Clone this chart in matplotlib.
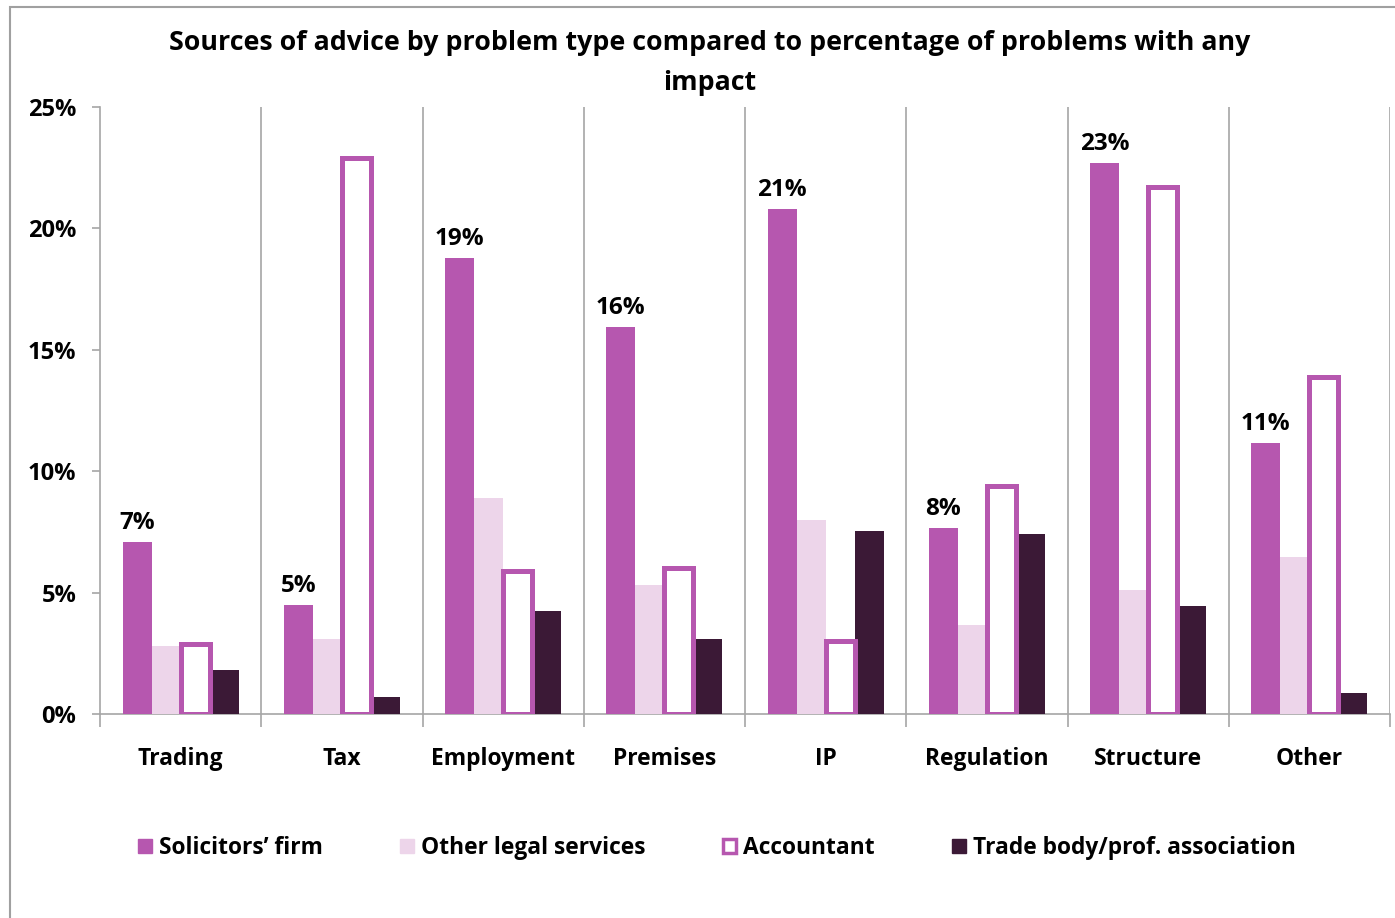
import matplotlib
matplotlib.use("Agg")
import matplotlib.pyplot as plt
from matplotlib.patches import Patch, Rectangle
import numpy as np

plt.rcParams['font.family'] = ['Open Sans', 'DejaVu Sans']
plt.rcParams['font.weight'] = 'bold'

categories = ["Trading", "Tax", "Employment", "Premises", "IP",
              "Regulation", "Structure", "Other"]
solicitors = [7.1, 4.5, 18.8, 15.95, 20.8, 7.65, 22.7, 11.15]
other_legal = [2.8, 3.1, 8.9, 5.3, 8.0, 3.65, 5.1, 6.45]
accountant = [2.9, 22.9, 5.9, 6.0, 3.0, 9.4, 21.7, 13.9]
trade_body = [1.8, 0.7, 4.25, 3.1, 7.55, 7.4, 4.45, 0.85]
series_names = ["Solicitors\u2019 firm", "Other legal services",
                "Accountant", "Trade body/prof. association"]
y_ticks = [0, 5, 10, 15, 20, 25]
title = ("Sources of advice by problem type compared to percentage of problems with any\n"
         "impact")

c_sol = "#B657AF"
c_oth = "#EDD5EA"
c_acc = "#B657AF"
c_trd = "#3B1936"
grid_c = "#A6A6A6"

W, H = 1395, 918
fig = plt.figure(figsize=(W / 100, H / 100), dpi=100)
ax = fig.add_axes([100 / W, 1 - 714 / H, 1290 / W, 607 / H])

x = np.arange(len(categories))
bw = 0.18
offs = np.array([-1.5, -0.5, 0.5, 1.5]) * bw

ax.bar(x + offs[0], solicitors, bw, color=c_sol, zorder=3)
ax.bar(x + offs[1], other_legal, bw, color=c_oth, zorder=3)
ax.bar(x + offs[2], accountant, bw, facecolor="white", edgecolor=c_acc,
       linewidth=3.6, zorder=4)
ax.bar(x + offs[3], trade_body, bw, color=c_trd, zorder=3)

for xi, v in zip(x, solicitors):
    ax.annotate(f"{int(v + 0.5)}%", (xi + offs[0], v), xytext=(0, 5),
                textcoords="offset points", ha="center", va="bottom",
                fontsize=17.5, fontweight="bold", color="black", zorder=5)

ax.set_xlim(-0.5, len(categories) - 0.5)
ax.set_ylim(0, 25)

# separators between categories
ax.vlines(x + 0.5, 0, 25, color=grid_c, linewidth=1.2, zorder=1)

ax.set_yticks(y_ticks)
ax.set_yticklabels([f"{t}%" for t in y_ticks], fontsize=17, fontweight="bold")
ax.set_xticks(np.append(x - 0.5, x[-1] + 0.5))
ax.set_xticklabels([])
ax.set_xticks(x, minor=True)
ax.set_xticklabels(categories, minor=True, fontsize=16.5, fontweight="bold")
ax.tick_params(axis="x", which="major", length=9, width=1.2, color=grid_c, direction="out")
ax.tick_params(axis="x", which="minor", length=0, pad=24)
ax.tick_params(axis="y", length=6, width=1.2, color=grid_c, pad=11)

for s in ["top", "right"]:
    ax.spines[s].set_visible(False)
for s in ["left", "bottom"]:
    ax.spines[s].set_color(grid_c)
    ax.spines[s].set_linewidth(1.2)

fig.text(710 / W, 1 - 63 / H, title, ha="center", va="center",
         fontsize=19.3, fontweight="bold", linespacing=1.72)

handles = [
    Patch(facecolor=c_sol, edgecolor=c_sol),
    Patch(facecolor=c_oth, edgecolor=c_oth),
    Patch(facecolor="white", edgecolor=c_acc, linewidth=2.5),
    Patch(facecolor=c_trd, edgecolor=c_trd),
]
fig.legend(handles, series_names, loc="center", bbox_to_anchor=(717 / W, 1 - 848 / H),
           ncol=4, frameon=False, handlelength=0.6, handleheight=0.6,
           handletextpad=0.3, columnspacing=3.4,
           prop={"weight": "bold", "size": 16.4})

fig.patches.append(Rectangle((10 / W, -0.05), 1.2, 1 - 7 / H + 0.05,
                             transform=fig.transFigure, fill=False,
                             edgecolor="#A0A0A0", linewidth=1.5))

fig.savefig("out.png", dpi=100)
